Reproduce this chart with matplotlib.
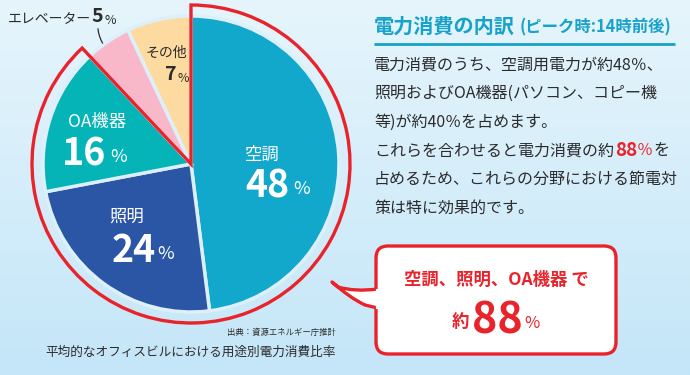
import numpy as np
import matplotlib.pyplot as plt
from matplotlib.patches import Wedge, FancyBboxPatch, PathPatch
from matplotlib.path import Path
from matplotlib.colors import LinearSegmentedColormap

plt.rcParams['font.family'] = ['Noto Sans CJK JP', 'DejaVu Sans']

# データ（時計回り、12時の位置から）
labels = ['空調', '照明', 'OA機器', 'エレベーター', 'その他']
shares = [48, 24, 16, 5, 7]
colors = ['#12A8CC', '#2A56A5', '#04B4B7', '#F8B8CA', '#FDDA9F']
highlight_total = 88  # 空調+照明+OA機器

RED = '#E8232B'
BLUE_T = '#16A2C9'
DARK = '#2B2B2B'
W, H = 690, 375

fig = plt.figure(figsize=(6.9, 3.75), dpi=100)
ax = fig.add_axes([0, 0, 1, 1])

def y(v):
    # 画像の上端基準 -> 下端基準
    return H - v

# 背景グラデーション
bg = LinearSegmentedColormap.from_list('bg', ['#E6F5FC', '#C4E6F8'])
grad = np.linspace(0, 1, 256).reshape(-1, 1)
ax.imshow(grad, cmap=bg, extent=[0, W, 0, H], aspect='auto', zorder=0, origin='upper')

cx, cy, r = 191, y(164), 148
wedges, _ = ax.pie(shares, colors=colors, startangle=90, counterclock=False,
                   center=(cx, cy), radius=r,
                   wedgeprops=dict(edgecolor='#DDF0FA', linewidth=2.5))
for w_ in wedges:
    w_.set_zorder(2)

# 88%部分の赤い枠
frac = sum(shares[:3]) / sum(shares)
ax.add_patch(Wedge((cx, cy), 159, 90 - 360 * frac, 90, fill=False,
                   ec=RED, lw=2.4, joinstyle='miter', zorder=3))

ax.set_xlim(0, W)
ax.set_ylim(0, H)
ax.set_aspect('auto')
ax.axis('off')

renderer = fig.canvas.get_renderer()

def row(x0, yp, parts):
    # parts: (文字列, fontsize, weight, color, 前の余白px, y補正px)
    xc = x0
    for s, fs, wt, col, gap, dy in parts:
        xc += gap
        t = ax.text(xc, y(yp + dy), s, fontsize=fs, fontweight=wt, color=col,
                    ha='left', va='center', zorder=5)
        bb = t.get_window_extent(renderer)
        xc += bb.width
    return xc

# 円グラフのラベル
def pct(xp, yp, num, big, small, color, gap):
    ax.text(xp, y(yp), num, fontsize=big, fontweight='bold', color=color,
            ha='right', va='center', zorder=5)
    ax.text(xp + gap, y(yp + 3), '%', fontsize=small, color=color,
            ha='left', va='center', zorder=5)

ax.text(262, y(155), labels[0], fontsize=12.5, color='white', ha='center', va='center', zorder=5)
pct(289, 186, str(shares[0]), 27, 13, 'white', 4)
ax.text(127, y(217), labels[1], fontsize=12.5, color='white', ha='center', va='center', zorder=5)
pct(156, 251, str(shares[1]), 27, 13, 'white', 1)
ax.text(97, y(122), labels[2], fontsize=12.5, color='white', ha='center', va='center', zorder=5)
pct(106, 154, str(shares[2]), 27, 13, 'white', 4)
ax.text(166, y(53), labels[4], fontsize=10, color=DARK, ha='center', va='center', zorder=5)
pct(176, 75, str(shares[4]), 14, 9, DARK, 1)
ax.text(8, y(19), labels[3], fontsize=10, color=DARK, ha='left', va='center', zorder=5)
pct(103.5, 17, str(shares[3]), 14, 9, DARK, 1)
lt = np.linspace(0, 1, 20)
ax.plot(98 + 1.5 * lt + 3 * lt ** 2, y(29 + 14 * lt), color=DARK, lw=0.9, zorder=5)

# 出典・キャプション
ax.text(336, y(332), '出典：資源エネルギー庁推計', fontsize=6, color=DARK,
        ha='right', va='center', zorder=5)
ax.text(336, y(352), '平均的なオフィスビルにおける用途別電力消費比率', fontsize=9.1,
        color=DARK, ha='right', va='center', zorder=5)

# 右側の見出し
xe = row(374, 26, [('電力消費の内訳', 14.5, 'bold', BLUE_T, 0, 0)])
row(xe, 27, [('(ピーク時:14時前後)', 11.8, 'bold', BLUE_T, 5, 0)])
ax.plot([374, 675], [y(43.5), y(43.5)], color=BLUE_T, lw=2, solid_capstyle='butt', zorder=5)

FS = 11.5
body = ['電力消費のうち、空調用電力が約48％、',
        '照明およびOA機器(パソコン、コピー機',
        '等)が約40％を占めます。',
        None,
        '占めるため、これらの分野における節電対',
        '策は特に効果的です。']
for i, line in enumerate(body):
    if line is None:
        continue
    ax.text(374, y(65 + 28.6 * i), line, fontsize=FS, color=DARK,
            ha='left', va='center', zorder=5)
row(374, 65 + 28.6 * 3, [('これらを合わせると電力消費の約', FS, 'normal', DARK, 0, 0),
                         (f'{highlight_total}', 13.5, 'bold', RED, 1, 0),
                         ('％', FS, 'normal', RED, 0, 0),
                         ('を', FS, 'normal', DARK, 0, 0)])

# 吹き出し
box = FancyBboxPatch((376, y(354)), 240, 108, boxstyle='round,pad=0,rounding_size=12',
                     fc='white', ec=RED, lw=2.4, zorder=4)
ax.add_patch(box)
verts = [(377.5, y(289)), (355, y(292)), (338, y(287)), (332, y(282)),
         (350, y(298)), (365, y(305)), (377.5, y(308))]
codes = [Path.MOVETO, Path.CURVE3, Path.CURVE3, Path.LINETO,
         Path.CURVE3, Path.CURVE3, Path.LINETO]
ax.add_patch(PathPatch(Path(verts, codes), fc='white', ec=RED, lw=2.4,
                       joinstyle='round', zorder=4))
ax.plot([378, 378], [y(290.5), y(306.5)], color='white', lw=3, zorder=4.5)

ax.text(496, y(280), '空調、照明、OA機器 で', fontsize=12.5, fontweight='bold',
        color=RED, ha='center', va='center', zorder=5)
row(452, 322, [('約', 12.5, 'bold', RED, 0, 0),
               (str(highlight_total), 31, 'bold', RED, 3, -2),
               ('%', 12, 'normal', RED, 1, 2)])

fig.savefig('out.png', dpi=100)
